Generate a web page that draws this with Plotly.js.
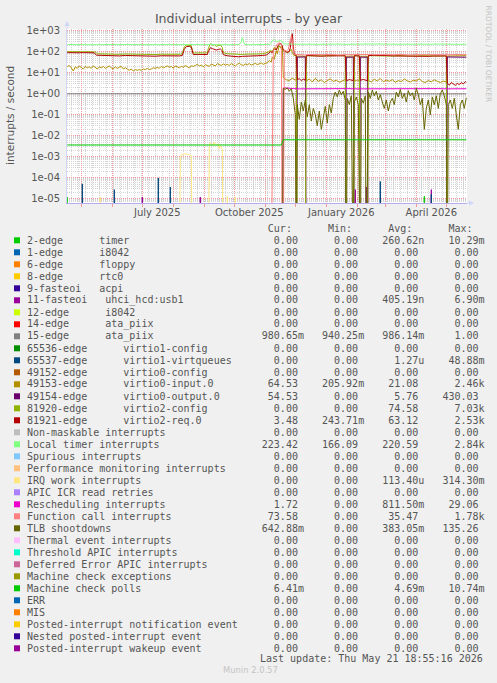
<!DOCTYPE html>
<html><head><meta charset="utf-8">
<script src="https://cdn.plot.ly/plotly-3.0.1.min.js"></script>
<style>html,body{margin:0;padding:0;background:#f0f0f0;}#chart{width:497px;height:683px;}</style>
</head><body><div id="chart"></div>
<script>
// ---------------- data (day offset from startDate, value in interrupts/s) ----------------
const startDate = '2025-04-17';
const monthTicks = ['2025-05-01','2025-06-01','2025-07-01','2025-08-01','2025-09-01','2025-10-01','2025-11-01','2025-12-01','2026-01-01','2026-02-01','2026-03-01','2026-04-01','2026-05-01'];
const labelDates = ['2025-07-16','2025-10-16','2026-01-16','2026-04-16'];
const labelTexts = ['July 2025','October 2025','January 2026','April 2026'];
const yTickVals = [1e-5,1e-4,1e-3,1e-2,1e-1,1,10,100,1000];
const yTickText = ['1e-05','1e-04','1e-03','1e-02','1e-01','1e+00','1e+01','1e+02','1e+03'];

const timer2 = [[0,1.2e-5],[1,0],[356,0],[357,1.3e-5],[358,0]];
const usb11 = [[74,0],[75,1.2e-5],[76,0],[132,0],[133,1.2e-5],[134,0],[287,0],[288,2.7e-5],[289,0],[298,0],[299,3.6e-5],[300,0],[363,0],[364,2.7e-5],[365,0]];
const ata15 = [[0,0.99],[100,0.98],[200,0.99],[300,0.98],[399,0.98]];
const virtq65537 = [[14,0],[15,5.1e-5],[16,0],[46,0],[47,2.7e-5],[48,0],[90,0],[91,9.7e-5],[92,0],[102,0],[103,3.6e-5],[104,0],[312,0],[313,6.6e-5],[314,0],[363,0],[364,1.6e-5],[365,0]];
const input49153 = [[0,20],[2,22],[4,17],[6,12],[8,19],[10,16],[12,21],[14,18],[16,15],[18,20],[20,17],[22,19],[24,16],[26,21],[28,18],[30,15],[32,19],[34,17],[36,20],[38,16],[40,18],[42,21],[44,17],[46,15],[48,19],[50,16],[52,18],[54,20],[56,15],[58,17],[60,15],[62,13],[64,15],[66,12],[68,14],[70,13],[72,14],[74,13],[76,15],[78,14],[80,16],[82,14],[84,15],[86,17],[88,16],[90,18],[92,16],[94,20],[96,17],[98,19],[100,21],[102,18],[104,20],[106,16],[108,21],[110,19],[112,17],[114,20],[116,18],[118,22],[120,19],[122,17],[124,21],[126,20],[128,22],[130,25],[132,21],[134,23],[136,19],[138,24],[140,22],[142,20],[144,26],[146,23],[148,21],[150,27],[152,24],[154,22],[156,26],[158,23],[160,25],[162,22],[164,27],[166,24],[168,21],[170,25],[172,28],[174,24],[176,22],[178,26],[180,24],[182,27],[184,23],[186,25],[188,28],[190,24],[192,26],[194,29],[196,25],[198,28],[200,30],[202,38],[204,32],[205,55],[207,45],[209,110],[210,80],[212,190],[214,140],[215,200],
  [216,5.8],[219,4.6],[222,4.2],[225,5.5],[228,4.4],[229,4.8],[230,62],[238,60],[239,4.0],[242,5.0],[245,3.6],[248,5.3],[251,3.9],[254,4.6],[257,3.4],[260,4.2],[263,5.1],[266,3.8],[269,4.4],[272,3.5],[275,4.1],[278,4.7],[279,60],[286,62],[287,3.9],[290,4.5],[292,4.0],[293,61],[300,60],[301,4.3],[304,3.6],[307,4.9],[310,4.0],[313,5.3],[316,3.7],[319,4.4],[322,3.9],[325,4.7],[328,3.5],[331,4.2],[334,3.8],[337,5.0],[340,4.1],[343,3.6],[346,4.4],[349,4.0],[352,5.1],[355,3.8],[358,3.4],[361,4.2],[364,3.7],[367,4.6],[370,3.9],[373,3.4],[376,4.0],[379,3.6],[380,62],[385,64],[390,63],[395,65],[399,64.5]];
const output49154 = [[0,0],[229,0],[230,55],[238,56],[239,0],[278,0],[279,54],[286,55],[287,0],[292,0],[293,55],[300,54],[301,0],[379,0],[380,56],[385,55],[390,54],[395,55],[399,54.5]];
const config81920 = [[0,100],[4,98],[8,100],[12,97],[16,99],[20,100],[24,98],[28,96],[30,80],[34,78],[40,76],[46,77],[52,75],[58,78],[64,76],[70,74],[76,77],[82,75],[88,73],[94,76],[100,74],[106,77],[112,75],[115,80],[117,170],[119,210],[122,205],[124,190],[125,120],[126,85],[130,88],[135,85],[140,87],[141,140],[143,240],[145,200],[147,220],[149,180],[151,195],[153,210],[155,160],[156,90],[160,80],[165,76],[170,72],[175,74],[180,77],[185,75],[190,78],[195,80],[199,85],[201,95],[203,120],[205,100],[207,160],[209,130],[211,190],[213,170],[215,150],
  [216,110],[218,95],[220,90],[222,100],[224,130],[226,70],[227,66],[229,64],[230,0],[238,0],[239,64],[245,63],[251,65],[257,62],[263,64],[269,66],[275,63],[278,64],[279,0],[286,0],[287,64],[292,63],[293,0],[300,0],[301,65],[307,63],[313,66],[319,64],[325,62],[331,65],[337,63],[343,64],[349,62],[355,65],[361,63],[367,64],[373,62],[379,64],[380,0],[399,0]];
const req81921 = [[0,90],[4,88],[8,91],[12,89],[16,90],[20,88],[24,90],[27,88],[29,68],[34,66],[40,64],[46,65],[52,63],[58,66],[64,64],[70,62],[76,65],[82,63],[88,61],[94,64],[100,62],[106,65],[112,63],[115,66],[117,130],[119,175],[122,180],[124,165],[125,100],[126,72],[130,74],[135,71],[140,73],[141,100],[143,155],[145,140],[147,130],[149,120],[151,128],[153,135],[155,110],[156,72],[160,64],[165,60],[168,56],[171,57],[175,60],[180,63],[185,61],[190,64],[195,66],[199,70],[201,80],[203,100],[205,90],[207,140],[209,120],[211,200],[213,260],[215,180],
  [216,120],[218,100],[220,92],[222,105],[223,150],[224,400],[225,720],[226,180],[227,72],[229,66],[230,4.6],[232,5.2],[234,4.2],[236,4.9],[238,4.4],[239,66],[244,63],[249,65],[254,61],[259,63],[264,64],[269,66],[274,63],[278,64],[279,4.1],[282,4.7],[286,4.2],[287,65],[290,63],[292,64],[293,4.3],[296,4.8],[300,4.1],[301,65],[306,67],[311,68],[316,66],[321,65],[326,63],[331,62],[336,64],[341,63],[346,61],[351,63],[356,62],[361,60],[366,62],[371,61],[376,64],[379,63],[380,3.2],[382,2.6],[384,3.4],[386,2.8],[388,2.5],[390,3.1],[392,2.7],[394,3.4],[396,2.9],[398,3.7],[399,3.5]];
const localTimer = [[0,218],[6,215],[12,220],[18,216],[24,218],[30,214],[36,219],[42,217],[48,215],[54,218],[60,216],[66,220],[72,217],[78,215],[84,219],[90,216],[96,218],[102,214],[108,217],[114,219],[120,216],[126,218],[132,215],[138,217],[144,219],[150,216],[156,218],[162,215],[168,217],[172,220],[174,300],[175,460],[177,230],[180,218],[186,216],[192,219],[198,217],[203,225],[205,330],[207,380],[209,300],[211,320],[213,340],[215,310],[216,240],[222,228],[228,232],[234,226],[240,230],[246,228],[252,224],[258,229],[264,227],[270,231],[276,226],[282,230],[288,228],[294,225],[300,229],[306,227],[312,232],[318,228],[324,226],[330,230],[336,227],[342,225],[348,229],[354,231],[360,226],[366,228],[372,230],[378,227],[384,224],[390,226],[396,225],[399,223]];
const irqWork = [[32,0],[33,1.2e-5],[34,0],[112,0],[113,9e-4],[114,1.2e-3],[116,1.3e-3],[118,1.4e-3],[120,1.3e-3],[122,1.25e-3],[124,1.1e-3],[125,0],[141,0],[142,3e-3],[143,4.6e-3],[145,3.6e-3],[147,4.8e-3],[149,3.4e-3],[151,4.2e-3],[152,2.3e-3],[153,3.3e-3],[155,2.2e-3],[156,0],[159,0],[160,1.3e-5],[161,0],[167,0],[168,1.2e-5],[169,0]];
const resched = [[0,0],[215,0],[216,1.9],[220,1.8],[226,1.75],[232,1.7],[240,1.72],[250,1.68],[260,1.72],[270,1.7],[280,1.74],[290,1.7],[300,1.72],[310,1.75],[320,1.7],[330,1.72],[340,1.73],[350,1.7],[360,1.72],[370,1.74],[380,1.7],[390,1.72],[399,1.72]];
const funcCall = [[0,0],[204,0],[206,110],[208,170],[210,230],[212,270],[214,210],[215,0],[216,0],[217,120],[219,105],[221,130],[222,200],[223,380],[224,560],[225,300],[226,90],[227,75],[232,72],[237,70],[242,73],[247,71],[252,69],[257,72],[262,74],[267,71],[272,70],[277,72],[282,73],[287,71],[292,70],[297,72],[302,74],[307,72],[312,71],[317,73],[322,70],[327,72],[332,74],[337,71],[342,70],[347,72],[352,73],[357,71],[362,72],[367,74],[372,72],[377,71],[382,73],[387,72],[392,74],[396,72],[399,73.6]];
const tlb = [[0,0],[215,0],[216,1.8],[218,1.6],[220,1.9],[222,1.3],[224,1.7],[226,0.6],[228,0.1],[229,0],[230,0.3],[232,0.06],[234,0.4],[236,0.15],[238,0.5],[240,0.08],[242,0.3],[244,0.05],[246,0.2],[248,0.1],[250,0.03],[252,0.15],[254,0.02],[256,0.08],[258,0.25],[260,0.04],[262,0.3],[264,0.12],[266,0.6],[268,1.2],[270,0.7],[272,1.5],[274,0.9],[276,1.3],[278,0.5],[279,0],[280,0.6],[282,0.3],[284,0.8],[286,0],[287,0.4],[289,0.7],[291,0.3],[293,0],[294,0.6],[296,0.35],[298,0.8],[299,0],[301,1.2],[303,0.6],[305,1.5],[307,0.8],[309,1.3],[311,0.5],[313,0.9],[315,0.4],[317,0.2],[319,0.5],[321,0.15],[323,0.4],[325,0.6],[327,0.3],[329,1.2],[331,0.7],[333,1.6],[335,0.6],[337,1.0],[339,0.4],[341,1.4],[343,0.8],[345,1.1],[347,0.5],[349,1.8],[351,0.9],[353,0.3],[355,0.6],[357,0.02],[359,0.2],[361,0.5],[363,0.1],[365,0.7],[367,0.3],[369,0.8],[371,0.2],[373,1.0],[375,1.5],[377,0.8],[379,0.3],[380,0],[381,0.3],[383,0.5],[385,0.2],[387,0.6],[389,0.1],[391,0.02],[393,0.3],[395,0.5],[397,0.2],[399,0.64]];
const mcPolls = [[0,3.6e-3],[214,3.6e-3],[216,6.41e-3],[399,6.41e-3]];

// legend table
const legendNames = ['2-edge      timer','1-edge      i8042','6-edge      floppy','8-edge      rtc0','9-fasteoi   acpi','11-fasteoi   uhci_hcd:usb1','12-edge      i8042','14-edge      ata_piix','15-edge      ata_piix','65536-edge      virtio1-config','65537-edge      virtio1-virtqueues','49152-edge      virtio0-config','49153-edge      virtio0-input.0','49154-edge      virtio0-output.0','81920-edge      virtio2-config','81921-edge      virtio2-req.0','Non-maskable interrupts','Local timer interrupts','Spurious interrupts','Performance monitoring interrupts','IRQ work interrupts','APIC ICR read retries','Rescheduling interrupts','Function call interrupts','TLB shootdowns','Thermal event interrupts','Threshold APIC interrupts','Deferred Error APIC interrupts','Machine check exceptions','Machine check polls','ERR','MIS','Posted-interrupt notification event','Nested posted-interrupt event','Posted-interrupt wakeup event'];
const legendColors = ['#00CC00','#0066B3','#FF8000','#FFCC00','#330099','#990099','#CCFF00','#FF0000','#808080','#008F00','#00487D','#B35A00','#B38F00','#6B006B','#8FB300','#B30000','#BEBEBE','#80FF80','#80C9FF','#FFC080','#FFE680','#AA80FF','#EE00CC','#FF8080','#666600','#FFBFFF','#00FFCC','#CC6699','#999900','#00CC00','#0066B3','#FF8000','#FFCC00','#330099','#990099'];
const curText = ['0.00','0.00','0.00','0.00','0.00','0.00','0.00','0.00','980.65m','0.00','0.00','0.00','64.53','54.53','0.00','3.48','0.00','223.42','0.00','0.00','0.00','0.00','1.72','73.58','642.88m','0.00','0.00','0.00','0.00','6.41m','0.00','0.00','0.00','0.00','0.00'];
const minText = ['0.00','0.00','0.00','0.00','0.00','0.00','0.00','0.00','940.25m','0.00','0.00','0.00','205.92m','0.00','0.00','243.71m','0.00','166.09','0.00','0.00','0.00','0.00','0.00','0.00','0.00','0.00','0.00','0.00','0.00','0.00','0.00','0.00','0.00','0.00','0.00'];
const avgText = ['260.62n','0.00','0.00','0.00','0.00','405.19n','0.00','0.00','986.14m','0.00','1.27u','0.00','21.08','5.76','74.58','63.12','0.00','220.59','0.00','0.00','113.40u','0.00','811.50m','35.47','383.05m','0.00','0.00','0.00','0.00','4.69m','0.00','0.00','0.00','0.00','0.00'];
const maxText = ['10.29m','0.00','0.00','0.00','0.00','6.90m','0.00','0.00','1.00','0.00','48.88m','0.00','2.46k','430.03','7.03k','2.53k','0.00','2.84k','0.00','0.00','314.30m','0.00','29.06','1.78k','135.26','0.00','0.00','0.00','0.00','10.74m','0.00','0.00','0.00','0.00','0.00'];

// ---------------- drawing ----------------
const T0 = Date.parse(startDate + 'T00:00:00Z');
function dayToDate(d){ return new Date(T0 + d*864e5).toISOString().replace('T',' ').slice(0,19); }
const FLOOR = 1e-9; // rrdtool clamps zero to the bottom of a log graph
const PL=67, PR=467, PT=29, PB=203;
function px2x(px){ return (px-PL)/(PR-PL); }
function py2y(py){ return (PB-py)/(PB-PT); }

function mk(pairs, legendIdx){
  return {type:'scatter', mode:'lines', x:pairs.map(p=>dayToDate(p[0])), y:pairs.map(p=>p[1]>0?p[1]:FLOOR),
    line:{color:legendColors[legendIdx], width:1}, hoverinfo:'skip', showlegend:false};
}
const traces = [
  mk(timer2,0), mk(usb11,5), mk(ata15,8), mk(virtq65537,10), mk(input49153,12), mk(output49154,13),
  mk(config81920,14), mk(req81921,15), mk(localTimer,17), mk(irqWork,20), mk(resched,22),
  mk(funcCall,23), mk(tlb,24), mk(mcPolls,29),
  {type:'scatter', mode:'lines', x:[], y:[], xaxis:'x2', yaxis:'y', showlegend:false, hoverinfo:'skip'}
];

const xRange = [dayToDate(-0.3), dayToDate(399.7)];
const minorY = [];
for (let e=-6; e<=2; e++) for (let m=2; m<=9; m++) minorY.push(m*Math.pow(10,e));

const GRID_MAJOR = '#f09a9a', GRID_MINOR = '#d4d4d4', TXT = '#555555';
const annotations = [];
const shapes = [];
const NB = s => s.replace(/ /g, '\u00A0');
function field(s){ return /[a-zA-Z]$/.test(s) ? s.padStart(10) : (s + ' ').padStart(10); }
const header = ' '.repeat(36) + '    Cur:  ' + '    Min:  ' + '    Avg:  ' + '    Max:  ';
annotations.push({xref:'paper', yref:'paper', x:px2x(26), y:py2y(228), xanchor:'left', yanchor:'middle', showarrow:false, borderpad:0,
  text:NB(header), font:{family:'DejaVu Sans Mono', size:10, color:TXT}});
legendNames.forEach((nm,i)=>{
  const cy = 240 + 12*i;
  const row = nm.padEnd(36) + field(curText[i]) + field(minText[i]) + field(avgText[i]) + field(maxText[i]);
  annotations.push({xref:'paper', yref:'paper', x:px2x(26), y:py2y(cy), xanchor:'left', yanchor:'middle', showarrow:false, borderpad:0,
    text:NB(row), font:{family:'DejaVu Sans Mono', size:10, color:TXT}});
  shapes.push({type:'rect', xref:'paper', yref:'paper', x0:px2x(14), x1:px2x(20), y0:py2y(cy+3.3), y1:py2y(cy-2.7),
    fillcolor:legendColors[i], line:{width:0}});
});
annotations.push({xref:'paper', yref:'paper', x:px2x(484), y:py2y(658), xanchor:'right', yanchor:'middle', showarrow:false, borderpad:0,
  text:NB('Last update: Thu May 21 18:55:16 2026'), font:{family:'DejaVu Sans Mono', size:10, color:TXT}});
annotations.push({xref:'paper', yref:'paper', x:px2x(250.5), y:py2y(670), xanchor:'center', yanchor:'middle', showarrow:false,
  text:'Munin 2.0.57', font:{family:'DejaVu Sans', size:8.4, color:'#c4c4c4'}});
annotations.push({xref:'paper', yref:'paper', x:px2x(488), y:py2y(53.5), xanchor:'center', yanchor:'middle', showarrow:false, textangle:90,
  text:'RRDTOOL / TOBI OETIKER', font:{family:'DejaVu Sans', size:7.5, color:'#c4c4c4'}});
annotations.push({xref:'paper', yref:'paper', x:px2x(10), y:py2y(116), xanchor:'center', yanchor:'middle', showarrow:false, textangle:-90,
  text:'interrupts / second', font:{family:'DejaVu Sans', size:10.5, color:TXT}});
// axis arrows
annotations.push({xref:'paper', yref:'paper', x:0, y:py2y(21), ax:0, ay:9, showarrow:true, arrowhead:2, arrowsize:1, arrowwidth:1, arrowcolor:'#CFD6F8', text:''});
annotations.push({xref:'paper', yref:'paper', x:px2x(474), y:0, ax:-9, ay:0, showarrow:true, arrowhead:2, arrowsize:1, arrowwidth:1, arrowcolor:'#CFD6F8', text:''});

const layout = {
  width:497, height:683, paper_bgcolor:'#f0f0f0', plot_bgcolor:'#ffffff',
  margin:{l:PL, r:497-PR, t:PT, b:683-PB, pad:0}, showlegend:false,
  title:{text:'Individual interrupts - by year', font:{family:'DejaVu Sans', size:12.6, color:TXT},
    x:0.5, xref:'container', xanchor:'center', y:1-19/683, yref:'container', yanchor:'middle'},
  xaxis:{type:'date', range:xRange, tickmode:'array', tickvals:monthTicks, ticktext:monthTicks.map(()=>''),
    showgrid:true, gridcolor:GRID_MAJOR, griddash:'1px,1px', gridwidth:1, ticks:'outside', ticklen:3, tickcolor:GRID_MAJOR,
    showline:true, linecolor:'#b8acf0', linewidth:1, zeroline:false, fixedrange:true,
    minor:{dtick:7*864e5, tick0:'2025-04-21', showgrid:true, gridcolor:GRID_MINOR, griddash:'1px,1px', ticks:''}},
  xaxis2:{type:'date', overlaying:'x', anchor:'y', range:xRange, tickmode:'array', tickvals:labelDates, ticktext:labelTexts,
    showgrid:false, ticks:'', showline:false, zeroline:false, ticklabelstandoff:2,
    tickfont:{family:'DejaVu Sans', size:10, color:TXT}},
  yaxis:{type:'log', range:[-5.205,3.08], tickmode:'array', tickvals:yTickVals, ticktext:yTickText,
    showgrid:true, gridcolor:GRID_MAJOR, griddash:'1px,1px', gridwidth:1, ticks:'', ticklabelstandoff:4,
    showline:true, linecolor:'#CFD6F8', linewidth:1, zeroline:false, fixedrange:true,
    tickfont:{family:'DejaVu Sans', size:10, color:TXT},
    minor:{tickvals:minorY, showgrid:true, gridcolor:GRID_MINOR, griddash:'1px,1px', ticks:''}},
  annotations:annotations, shapes:shapes
};
Plotly.newPlot('chart', traces, layout, {staticPlot:true, displayModeBar:false});
</script></body></html>
